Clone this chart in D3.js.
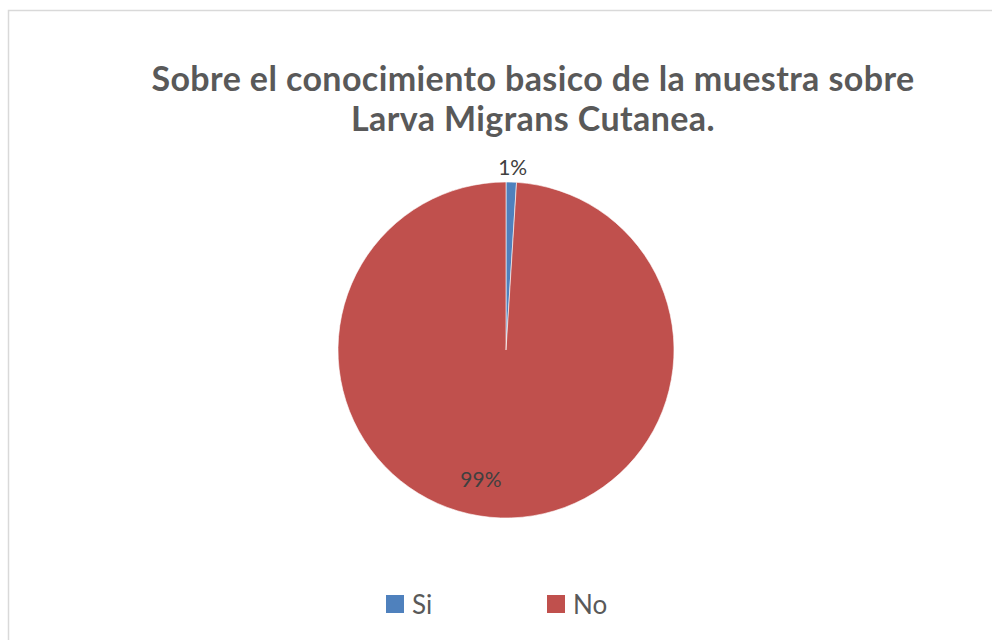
<!DOCTYPE html>
<html>
<head>
<meta charset="utf-8">
<script src="https://cdn.jsdelivr.net/npm/d3@7/dist/d3.min.js"></script>
<style>
  html, body { margin: 0; padding: 0; background: #fff; }
  svg { display: block; }
</style>
</head>
<body>
<svg id="chart" width="992" height="640"></svg>
<script>
// Chart data
const categories = ["Si", "No"];
const values = [1, 99];
const colors = ["#4F81BD", "#C0504D"];
const titleLines = ["Sobre el conocimiento basico de la muestra sobre", "Larva Migrans Cutanea."];

const svg = d3.select("#chart");
const W = 992, H = 640;

// chart frame
svg.append("rect")
  .attr("x", 8.5).attr("y", 10.5)
  .attr("width", W + 20).attr("height", H + 20)
  .attr("fill", "#fff")
  .attr("stroke", "#d9d9d9")
  .attr("stroke-width", 1.5);

// title
svg.append("text")
  .attr("text-anchor", "middle")
  .attr("font-family", "Lato, 'Open Sans', sans-serif")
  .attr("font-weight", "bold")
  .attr("font-size", 34)
  .attr("letter-spacing", 0.4)
  .attr("fill", "#595959")
  .selectAll("tspan")
  .data(titleLines)
  .join("tspan")
  .attr("x", 533)
  .attr("y", (d, i) => 91 + i * 40)
  .text(d => d);

// pie
const cx = 506, cy = 350, r = 168;
const total = d3.sum(values);
const pie = d3.pie().sort(null).value(d => d.value);
const arcs = pie(categories.map((c, i) => ({ name: c, value: values[i], color: colors[i] })));
const arc = d3.arc().innerRadius(0).outerRadius(r);

const g = svg.append("g").attr("transform", `translate(${cx},${cy})`);
g.selectAll("path.slice")
  .data(arcs)
  .join("path")
  .attr("class", "slice")
  .attr("d", arc)
  .attr("fill", d => d.data.color)
  .attr("stroke", "#fff")
  .attr("stroke-width", 0.6);

// data labels: small slice outside the edge, large slice inside
const fmt = d => Math.round(d.data.value / total * 100) + "%";
const outerLabelArc = d3.arc().innerRadius(r + 12).outerRadius(r + 12);
const innerLabelArc = d3.arc().innerRadius(r * 0.77).outerRadius(r * 0.77);

g.selectAll("text.lbl")
  .data(arcs)
  .join("text")
  .attr("class", "lbl")
  .attr("font-family", "Lato, 'Open Sans', sans-serif")
  .attr("font-size", 21)
  .attr("fill", "#404040")
  .attr("text-anchor", "middle")
  .attr("transform", d => {
    const small = d.data.value / total < 0.05;
    const [x, y] = small ? outerLabelArc.centroid(d) : innerLabelArc.centroid(d);
    return small ? `translate(${x + 1},${y + 5})` : `translate(${x - 21},${y + 8})`;
  })
  .text(fmt);

// legend
const legend = svg.append("g");
const legendX = d3.scaleOrdinal().domain(categories).range([386, 547]);
const items = legend.selectAll("g")
  .data(categories)
  .join("g")
  .attr("transform", d => `translate(${legendX(d)},595)`);
items.append("rect")
  .attr("width", 18).attr("height", 18)
  .attr("fill", (d, i) => colors[i]);
items.append("text")
  .attr("x", 26).attr("y", 19)
  .attr("font-family", "Lato, 'Open Sans', sans-serif")
  .attr("font-size", 26)
  .attr("fill", "#595959")
  .text(d => d);
</script>
</body>
</html>
